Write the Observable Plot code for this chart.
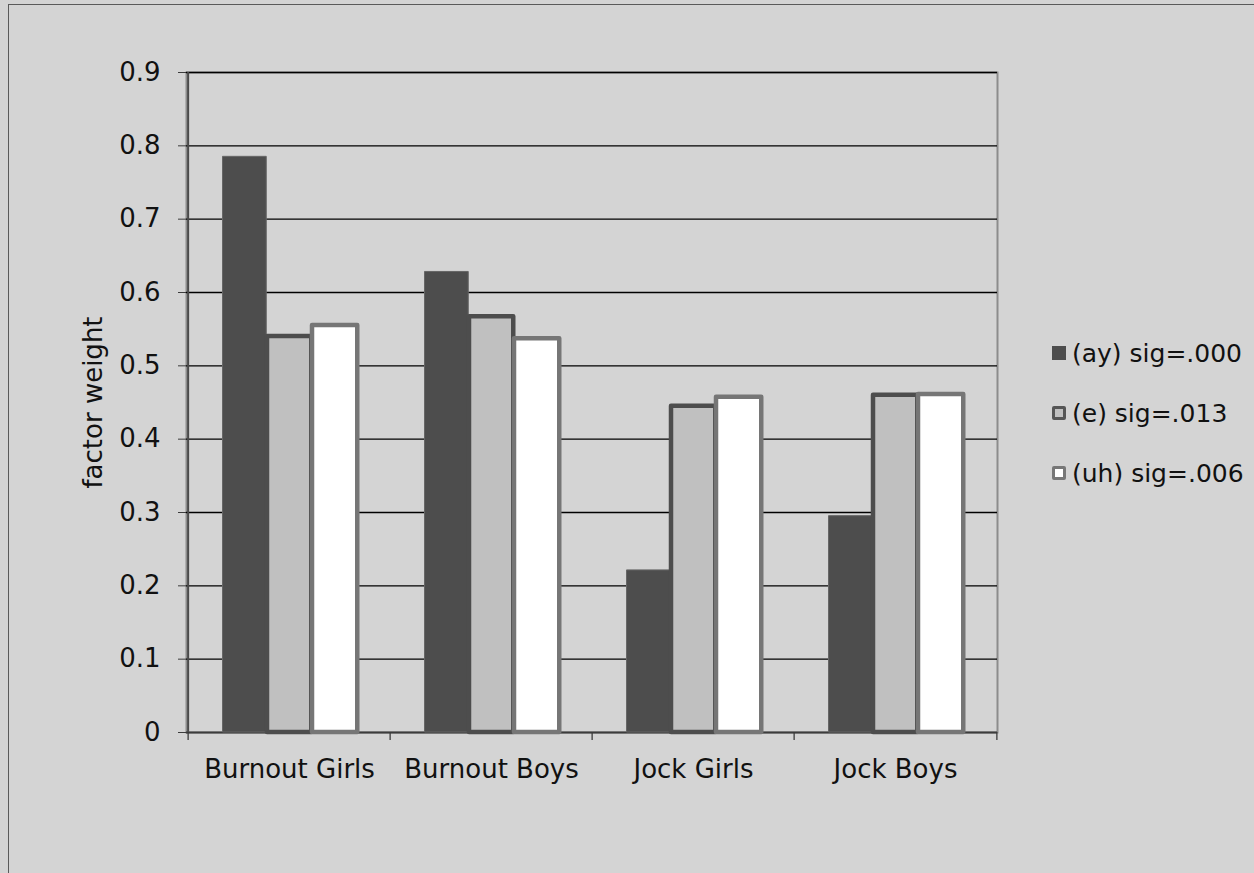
<!DOCTYPE html>
<html>
<head>
<meta charset="utf-8">
<script src="https://cdn.jsdelivr.net/npm/d3@7"></script>
<script src="https://cdn.jsdelivr.net/npm/@observablehq/plot@0.6"></script>
<style>
  html, body { margin: 0; padding: 0; background: #d4d4d4; overflow: hidden; }
  #wrap { position: relative; width: 1254px; height: 873px; font-family: "DejaVu Sans", Verdana, sans-serif; }
  #border { position: absolute; left: 8px; top: 4px; width: 1400px; height: 1000px; border: 1.5px solid #5a5a5a; pointer-events: none; }
  #chart { position: absolute; left: 0; top: 0; }
  .legend { position: absolute; left: 1052px; top: 332px; font-size: 25px; color: #111; }
  .legend .row { display: flex; align-items: center; height: 60px; margin-top: -9px; margin-bottom: 9px; }
  .legend .sw { width: 14px; height: 14px; box-sizing: border-box; margin-right: 6px; border-radius: 2px; }
</style>
</head>
<body>
<div id="wrap">
  <div id="chart"></div>
  <div id="border"></div>
  <div class="legend" id="legend"></div>
</div>
<script>
const categories = ["Burnout Girls", "Burnout Boys", "Jock Girls", "Jock Boys"];
const seriesNames = ["(ay) sig=.000", "(e) sig=.013", "(uh) sig=.006"];
const ay = [0.785, 0.628, 0.221, 0.295];
const e  = [0.540, 0.567, 0.445, 0.460];
const uh = [0.555, 0.537, 0.457, 0.461];
const yTicks = [0, 0.1, 0.2, 0.3, 0.4, 0.5, 0.6, 0.7, 0.8, 0.9];
const yLabel = "factor weight";

const seriesValues = [ay, e, uh];
const fills = ["#4d4d4d", "#c0c0c0", "#ffffff"];
const strokes = ["#666666", "#4d4d4d", "#767676"];
const strokeWidths = [1, 4.5, 4.5];

const W = 1254, H = 873;
const mL = 186, mR = 257, mT = 72, mB = 141;
const bw = (W - mL - mR) / categories.length;
// bar edges within each category band (pixels from band start)
const edges = [[34.5, 79], [79, 124], [124, 170]];

const rows = seriesNames.map((s, si) => categories.map((c, ci) => ({category: c, series: s, value: seriesValues[si][ci]})));

const barMarks = rows.map((data, si) => Plot.barY(data, {
  x: "category", y: "value",
  fill: fills[si], stroke: strokes[si], strokeWidth: strokeWidths[si],
  strokeLinejoin: "round",
  insetLeft: edges[si][0], insetRight: bw - edges[si][1]
}));

const plot = Plot.plot({
  width: W, height: H,
  marginLeft: mL, marginRight: mR, marginTop: mT, marginBottom: mB,
  style: {fontFamily: "'DejaVu Sans', Verdana, sans-serif", background: "transparent", color: "#111"},
  x: {domain: categories, padding: 0},
  y: {domain: [0, 0.9]},
  marks: [
    Plot.frame({stroke: "#8c8c8c", strokeWidth: 2}),
    Plot.ruleY(yTicks.filter(d => d > 0), {stroke: "#000000", strokeWidth: 1.3}),
    Plot.ruleY([0], {stroke: "#3c3c3c", strokeWidth: 2}),
    Plot.ruleX([categories[0]], {dx: -bw / 2, stroke: "#4a4a4a", strokeWidth: 2}),
    // boundary tick marks below the baseline
    Plot.ruleX(categories, {y1: 0, y2: 0, insetBottom: -8, dx: -bw / 2, stroke: "#3c3c3c", strokeWidth: 1.3}),
    Plot.ruleX([categories[categories.length - 1]], {y1: 0, y2: 0, insetBottom: -8, dx: bw / 2, stroke: "#3c3c3c", strokeWidth: 1.3}),
    ...barMarks,
    Plot.axisY({ticks: yTicks, tickFormat: d => d === 0 ? "0" : d3.format(".1f")(d), tickSize: 8, tickPadding: 18, fontSize: 26, label: null, stroke: "#3c3c3c"}),
    Plot.axisX({tickSize: 0, tickPadding: 27, fontSize: 26, label: null}),
    Plot.text([yLabel], {frameAnchor: "left", dx: -93, rotate: -90, fontSize: 26, textAnchor: "middle", fill: "#111"})
  ]
});
document.getElementById("chart").appendChild(plot);

const legend = document.getElementById("legend");
const swStyles = [
  "background:#4d4d4d;border-radius:0;",
  "background:#c0c0c0;border:3px solid #555555;",
  "background:#ffffff;border:3px solid #777777;"
];
seriesNames.forEach((s, i) => {
  const row = document.createElement("div");
  row.className = "row";
  const sw = document.createElement("div");
  sw.className = "sw";
  sw.style.cssText = swStyles[i];
  const t = document.createElement("span");
  t.textContent = s;
  row.appendChild(sw); row.appendChild(t);
  legend.appendChild(row);
});
</script>
</body>
</html>
